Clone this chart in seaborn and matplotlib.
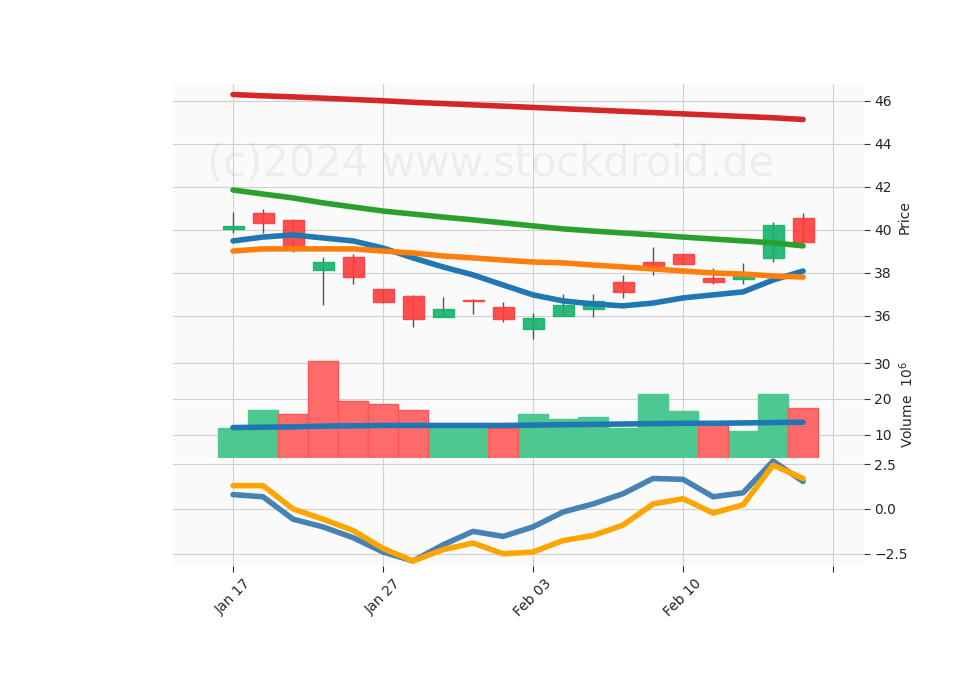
import numpy as np
import pandas as pd
import matplotlib
matplotlib.use("Agg")
import matplotlib.pyplot as plt
import seaborn as sns

tick_labels = ["Jan 17", "Jan 27", "Feb 03", "Feb 10", ""]
opens  = [40.05, 40.80, 40.47, 38.14, 38.74, 37.26, 36.93, 35.95, 36.72, 36.42,
          35.40, 36.00, 36.33, 37.60, 38.50, 38.88, 37.77, 37.72, 38.70, 40.56]
closes = [40.20, 40.33, 39.20, 38.50, 37.80, 36.65, 35.86, 36.33, 36.68, 35.86,
          35.90, 36.50, 36.70, 37.10, 38.20, 38.42, 37.58, 38.00, 40.23, 39.44]
highs  = [40.84, 40.98, 40.50, 38.74, 38.88, 37.26, 36.98, 36.88, 36.80, 36.65,
          36.14, 37.00, 37.00, 37.90, 39.20, 38.90, 38.23, 38.46, 40.37, 40.80]
lows   = [39.86, 39.86, 38.98, 36.50, 37.50, 36.60, 35.50, 35.95, 36.10, 35.70,
          34.93, 36.00, 35.95, 36.85, 37.90, 38.42, 37.50, 37.50, 38.50, 39.44]
volume = [12.0, 16.8, 15.9, 30.5, 19.3, 18.7, 17.0, 12.0, 12.0, 12.0,
          15.9, 14.5, 15.0, 12.0, 21.5, 16.5, 13.0, 11.1, 21.5, 17.6]
vol_up = [1, 1, 0, 0, 0, 0, 0, 1, 1, 0, 1, 1, 1, 1, 1, 1, 0, 1, 1, 0]
vol_ma = [12.0, 12.1, 12.2, 12.4, 12.5, 12.6, 12.6, 12.6, 12.6, 12.6,
          12.7, 12.8, 12.9, 13.0, 13.1, 13.2, 13.2, 13.3, 13.4, 13.5]
ma_blue   = [39.49, 39.67, 39.77, 39.63, 39.49, 39.16, 38.70, 38.28, 37.91, 37.44,
             36.98, 36.70, 36.56, 36.47, 36.60, 36.84, 36.98, 37.12, 37.67, 38.09]
ma_orange = [39.02, 39.12, 39.12, 39.12, 39.12, 39.02, 38.93, 38.79, 38.70, 38.60,
             38.51, 38.47, 38.37, 38.28, 38.19, 38.09, 38.00, 37.95, 37.86, 37.81]
ma_green  = [41.86, 41.67, 41.49, 41.26, 41.07, 40.88, 40.74, 40.60, 40.47, 40.33,
             40.19, 40.05, 39.95, 39.86, 39.77, 39.67, 39.58, 39.49, 39.40, 39.26]
ma_red    = [46.30, 46.24, 46.19, 46.13, 46.07, 46.01, 45.94, 45.88, 45.82, 45.76,
             45.70, 45.64, 45.58, 45.52, 45.46, 45.40, 45.34, 45.28, 45.22, 45.14]
osc_blue   = [0.80, 0.68, -0.57, -1.00, -1.60, -2.40, -2.90, -2.00, -1.25, -1.53,
              -1.00, -0.17, 0.28, 0.85, 1.70, 1.65, 0.68, 0.90, 2.67, 1.53]
osc_orange = [1.30, 1.30, 0.00, -0.57, -1.20, -2.20, -2.90, -2.27, -1.90, -2.50,
              -2.40, -1.76, -1.48, -0.90, 0.28, 0.57, -0.23, 0.23, 2.44, 1.70]

n = len(opens)
idx = np.arange(n)
df = pd.DataFrame(dict(i=idx, o=opens, c=closes, h=highs, l=lows, v=volume, vma=vol_ma,
                       vu=vol_up, b=ma_blue, org=ma_orange, g=ma_green, r=ma_red,
                       ob=osc_blue, oo=osc_orange))
UPC, DNC = "#14b36b", "#ff3c3c"

sns.set_style("whitegrid", {"axes.facecolor": "#fafafa", "grid.color": "#d0d0d0"})
fig = plt.figure(figsize=(9.6, 6.9), dpi=100)
L, R = 173/960, 864/960
def mk(top, bot):
    return fig.add_axes([L, 1-bot/690, R-L, (bot-top)/690])
ax1 = mk(84, 351)
ax2 = mk(351, 458)
ax3 = mk(458, 566)

for _, r in df.iterrows():
    col = UPC if r.c >= r.o else DNC
    ax1.vlines(r.i, r.l, r.h, color="#555555", lw=1, zorder=2)
    ax1.bar(r.i, abs(r.c-r.o) if abs(r.c-r.o) > 0.03 else 0.04, 0.7, bottom=min(r.o, r.c),
            color=col, edgecolor=col, alpha=0.9, zorder=3)
for col, c in [("r", "#d62728"), ("g", "#2ca02c"), ("b", "#1f77b4"), ("org", "#ff7f0e")]:
    sns.lineplot(data=df, x="i", y=col, ax=ax1, color=c, lw=4, zorder=4)
ax1.set_ylim(34.37, 46.79)
ax1.set_yticks([36, 38, 40, 42, 44, 46])
ax1.set_ylabel("Price")
ax1.text(0.46, 0.70, "(c)2024 www.stockdroid.de", transform=ax1.transAxes, ha="center",
         va="center", fontsize=30, color="#000000", alpha=0.05)

upm = df.vu == 1
ax2.bar(df.i[upm], df.v[upm], 1.0, color="#4cc890", edgecolor="#4cc890", zorder=2)
ax2.bar(df.i[~upm], df.v[~upm], 1.0, color="#ff6b6b", edgecolor="#ff5555", zorder=2)
sns.lineplot(data=df, x="i", y="vma", ax=ax2, color="#1f77b4", lw=4, zorder=3)
ax2.set_ylim(3.5, 33.4)
ax2.set_yticks([10, 20, 30])
ax2.set_ylabel("Volume  $10^6$")

sns.lineplot(data=df, x="i", y="ob", ax=ax3, color="#4682b4", lw=4)
sns.lineplot(data=df, x="i", y="oo", ax=ax3, color="#ffa500", lw=4)
ax3.set_ylim(-3.18, 2.84)
ax3.set_yticks([-2.5, 0, 2.5])
ax3.set_ylabel("")

for ax in (ax1, ax2, ax3):
    ax.set_xlim(-2, 21.03)
    ax.set_xticks([0, 5, 10, 15, 20])
    ax.yaxis.tick_right()
    ax.yaxis.set_label_position("right")
    ax.set_xlabel("")
    for s in ax.spines.values():
        s.set_visible(False)
    ax.tick_params(axis="y", length=4, right=True, color="#333333")
for ax in (ax1, ax2):
    ax.set_xticklabels([])
    ax.tick_params(axis="x", length=0)
ax3.set_xticklabels(tick_labels, rotation=45)
ax3.tick_params(axis="x", length=4, bottom=True)

fig.savefig("out.png", dpi=100)
